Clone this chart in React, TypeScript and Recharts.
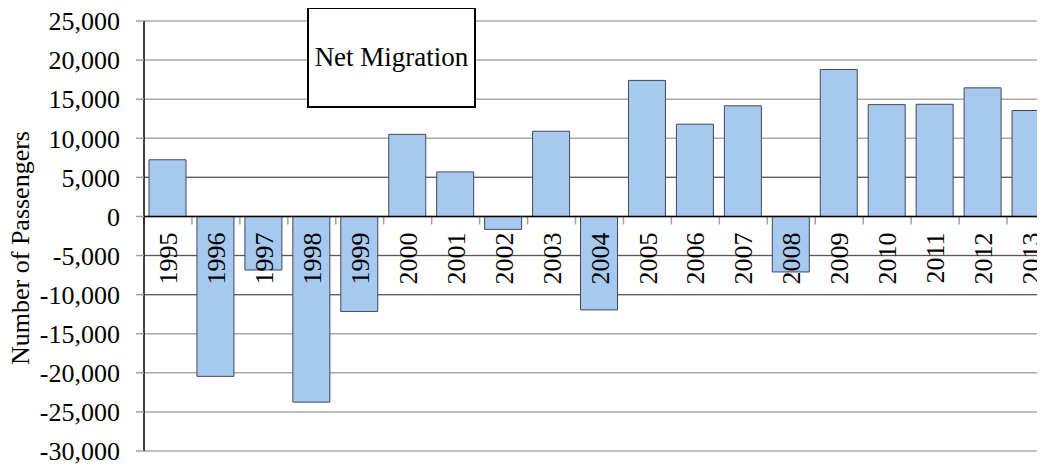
import { BarChart, Bar, XAxis, YAxis, CartesianGrid, ReferenceLine } from "recharts";

const years = ["1995", "1996", "1997", "1998", "1999", "2000", "2001", "2002", "2003", "2004", "2005", "2006", "2007", "2008", "2009", "2010", "2011", "2012", "2013"];
const netMigration = [7250, -20450, -6850, -23750, -12150, 10500, 5700, -1650, 10900, -11950, 17400, 11800, 14150, -7100, 18800, 14300, 14350, 16450, 13550];
const yTicks = [25000, 20000, 15000, 10000, 5000, 0, -5000, -10000, -15000, -20000, -25000, -30000];
const darkLines = [5000, -5000, -10000];

const data = years.map((year, i) => ({ year, value: netMigration[i] }));

const FONT = "Liberation Serif";

function ZeroAxis(props: any) {
  const { x1, x2, y1 } = props;
  const band = (x2 - x1) / years.length;
  return (
    <g>
      {years.map((y, i) => (
        <line key={"t" + i} x1={x1 + band * i} x2={x1 + band * i} y1={y1} y2={y1 + 8} stroke="#a0a0a0" strokeWidth={1.5} />
      ))}
      <line x1={x1} x2={x2} y1={y1} y2={y1} stroke="#000" strokeWidth={1.5} />
      {years.map((y, i) => {
        const cx = x1 + band * (i + 0.5);
        const ty = y1 + 16;
        return (
          <text key={"l" + i} x={cx} y={ty} dy="0.35em" textAnchor="end" transform={`rotate(-90, ${cx}, ${ty})`} style={{ fontFamily: "Times New Roman" }} fontSize={26} fill="#000">
            {y}
          </text>
        );
      })}
    </g>
  );
}

export default function App() {
  return (
    <div style={{ position: "relative", width: 1060, height: 457 }}>
      <style>{"body{overflow:hidden}"}</style>
      <BarChart width={1060} height={457} data={data} margin={{ top: 13, right: 13, bottom: 14, left: 0 }}>
        <CartesianGrid vertical={false} stroke="#a8a8a8" strokeWidth={1.5} />
        <CartesianGrid vertical={false} horizontalValues={darkLines} stroke="#555" strokeWidth={1} />
        <XAxis dataKey="year" hide />
        <YAxis
          domain={[-30000, 25000]}
          ticks={yTicks}
          interval={0}
          width={136}
          tickFormatter={(v: number) => v.toLocaleString("en-US")}
          axisLine={{ stroke: "#000", strokeWidth: 1.5 }}
          tickLine={{ stroke: "#a0a0a0", strokeWidth: 1.5 }}
          tickSize={8}
          tickMargin={16}
          tick={{ fill: "#000", style: { fontFamily: FONT }, fontSize: 26 }}
          label={{
            content: (p: any) => {
              const vb = p.viewBox || { x: 0, y: 13, height: 430 };
              const x = vb.x + 21;
              const y = vb.y + vb.height / 2 + 12;
              return (
                <text x={x} y={y} textAnchor="middle" transform={`rotate(-90, ${x}, ${y})`} style={{ fontFamily: "serif" }} fontSize={26} fill="#000">
                  Number of Passengers
                </text>
              );
            },
          }}
        />
        <Bar dataKey="value" fill="#a7c9ef" stroke="#3e4a5a" strokeWidth={1} barSize={37} isAnimationActive={false} />
        <ReferenceLine y={0} shape={ZeroAxis} />
      </BarChart>
      <div
        style={{
          position: "absolute",
          left: 299,
          top: -1,
          width: 169,
          height: 101,
          boxSizing: "border-box",
          border: "2px solid #000",
          background: "#fff",
          display: "flex",
          alignItems: "center",
          justifyContent: "center",
          fontSize: 27,
          color: "#000",
        }}
      >
        Net Migration
      </div>
    </div>
  );
}
